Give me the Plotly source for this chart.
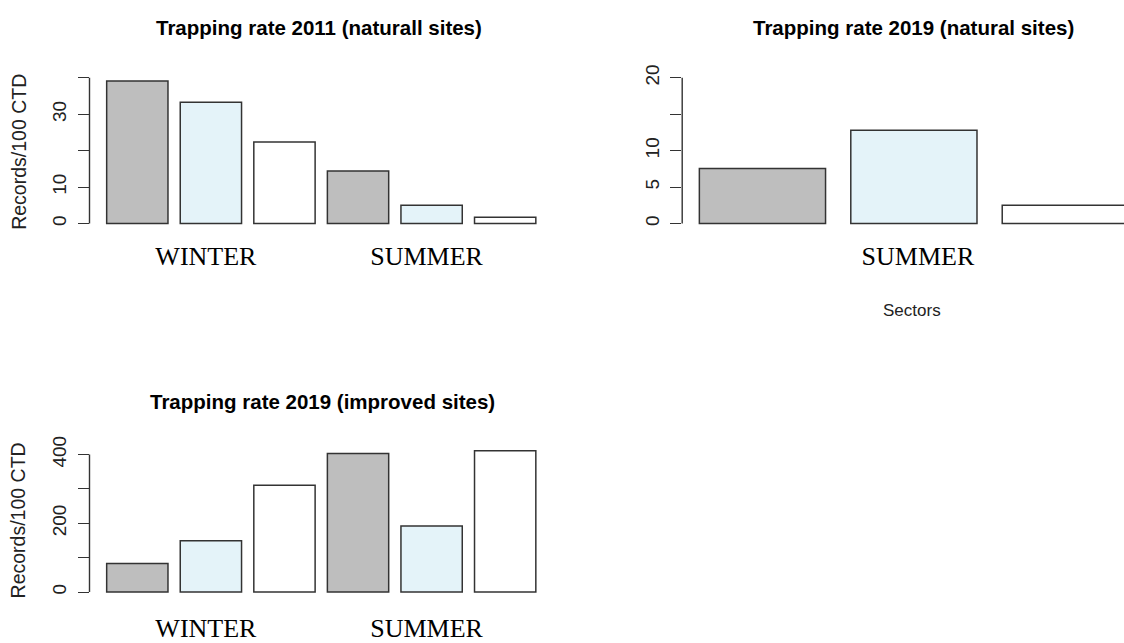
import plotly.graph_objects as go

# ---- data -------------------------------------------------------------
seasons = ["WINTER", "SUMMER"]
sector_colors = ["#BEBEBE", "#E4F3F9", "#FFFFFF"]

# Records per 100 camera-trap days, three sectors per season
rate_2011_natural = [39.1, 33.3, 22.4, 14.4, 5.0, 1.7]
rate_2019_natural = [7.55, 12.8, 2.5]          # summer only
rate_2019_improved = [83, 149, 311, 403, 192, 411]

ticks_2011_natural = [0, 10, 20, 30, 40]
labels_2011_natural = ["0", "10", "", "30", ""]
ticks_2019_natural = [0, 5, 10, 15, 20]
labels_2019_natural = ["0", "5", "10", "", "20"]
ticks_2019_improved = [0, 100, 200, 300, 400]
labels_2019_improved = ["0", "", "200", "", "400"]

titles = [
    "Trapping rate 2011 (naturall sites)",
    "Trapping rate 2019 (natural sites)",
    "Trapping rate 2019 (improved sites)",
]
y_title = "Records/100 CTD"
x_title = "Sectors"

# ---- layout helpers ---------------------------------------------------
W, H = 1124, 643
SANS = "Liberation Sans, Arial, sans-serif"
SERIF = "Liberation Serif, Times New Roman, serif"
EDGE = "#333333"


def fx(px):
    return px / W


def fy(px):
    return 1 - px / H


fig = go.Figure()

panels = [
    dict(vals=rate_2011_natural, lab_x=[1, 4], lab=seasons,
         yt=ticks_2011_natural, yl=labels_2011_natural,
         xd=(89.5, 553), yd=(64.1, 224.2), xr=(-0.65, 5.65), yr=(-1.6, 41.6),
         so=9, shift=-5),
    dict(vals=rate_2019_natural, lab_x=[1], lab=[seasons[1]],
         yt=ticks_2019_natural, yl=labels_2019_natural,
         xd=(682.2, 1124), yd=(64.1, 224.2), xr=(-0.53, 2.3875), yr=(-0.8, 20.8),
         so=9, shift=4),
    dict(vals=rate_2019_improved, lab_x=[1, 4], lab=seasons,
         yt=ticks_2019_improved, yl=labels_2019_improved,
         xd=(89.5, 553), yd=(443.7, 599.0), xr=(-0.65, 5.65), yr=(-16.4, 427.4),
         so=12, shift=-5),
]

shapes = []
for i, p in enumerate(panels, start=1):
    xa = "x" if i == 1 else f"x{i}"
    ya = "y" if i == 1 else f"y{i}"
    n = len(p["vals"])
    fig.add_trace(go.Bar(
        x=list(range(n)), y=p["vals"],
        marker=dict(color=[sector_colors[k % 3] for k in range(n)],
                    line=dict(color=EDGE, width=1.5)),
        xaxis=xa, yaxis=ya, showlegend=False, hoverinfo="y",
    ))
    fig.update_layout(**{
        ("xaxis" if i == 1 else f"xaxis{i}"): dict(
            domain=[fx(p["xd"][0]), fx(p["xd"][1])], range=list(p["xr"]),
            anchor=ya, showgrid=False, zeroline=False, showline=False,
            ticks="", tickvals=p["lab_x"], ticktext=p["lab"],
            tickfont=dict(family=SERIF, size=26, color="#000000"),
            ticklabelstandoff=p["so"], ticklabelshift=p["shift"],
        ),
        ("yaxis" if i == 1 else f"yaxis{i}"): dict(
            domain=[fy(p["yd"][1]), fy(p["yd"][0])], range=list(p["yr"]),
            anchor=xa, showgrid=False, zeroline=False, showline=False,
            ticks="outside", ticklen=11, tickwidth=1.4, tickcolor=EDGE,
            tickvals=p["yt"], ticktext=p["yl"], tickangle=-90,
            tickfont=dict(family=SANS, size=19, color="#222222"),
            ticklabelstandoff=4,
        ),
    })
    # axis line running from the first to the last tick
    shapes.append(dict(type="line", xref=f"{xa} domain", yref=ya,
                       x0=0, x1=0, y0=p["yt"][0], y1=p["yt"][-1],
                       line=dict(color=EDGE, width=1.4)))

annotations = [
    dict(text=f"<b>{titles[0]}</b>", x=fx(318.7), y=fy(19)),
    dict(text=f"<b>{titles[1]}</b>", x=fx(913), y=fy(19)),
    dict(text=f"<b>{titles[2]}</b>", x=fx(322), y=fy(399)),
]
for a in annotations:
    a.update(xref="paper", yref="paper", showarrow=False,
             xanchor="center", yanchor="middle",
             font=dict(family=SANS, size=20.5, color="#000000"))

for yc in (145, 520):
    annotations.append(dict(text=y_title, x=fx(18.3), y=fy(yc), xref="paper", yref="paper",
                            showarrow=False, textangle=-90, xanchor="center", yanchor="middle",
                            font=dict(family=SANS, size=19.5, color="#222222")))

annotations.append(dict(text=x_title, x=fx(911.7), y=fy(307), xref="paper", yref="paper",
                        showarrow=False, xanchor="center", yanchor="middle",
                        font=dict(family=SANS, size=17, color="#222222")))

fig.update_layout(
    width=W, height=H, margin=dict(l=0, r=0, t=0, b=0),
    paper_bgcolor="white", plot_bgcolor="white",
    bargap=1 / 6, shapes=shapes, annotations=annotations,
)

fig.write_html("out.html")
